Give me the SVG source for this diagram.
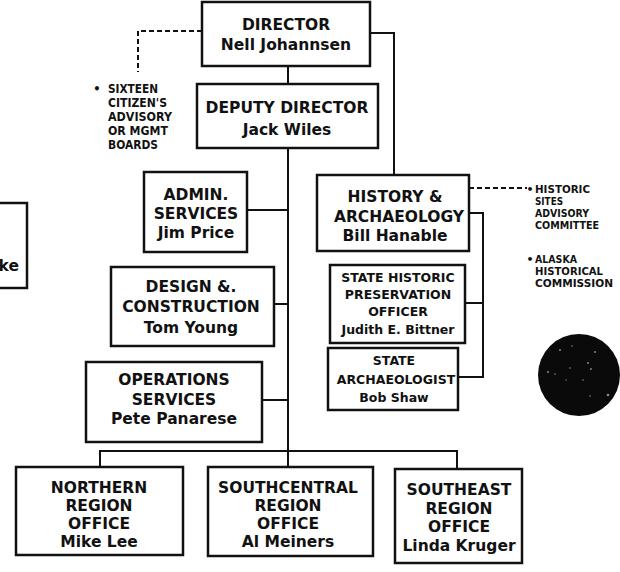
<svg xmlns="http://www.w3.org/2000/svg" width="620" height="572" viewBox="0 0 620 572">
<style>
.box{fill:#fff;stroke:#111;stroke-width:2.5}
.ln{fill:none;stroke:#111;stroke-width:2}
.dash{fill:none;stroke:#111;stroke-width:2;stroke-dasharray:5 3}
text{font-family:"DejaVu Sans",Verdana,sans-serif;font-weight:bold;fill:#111;text-anchor:middle}
.t{font-size:15.5px}
.s{font-size:12.5px}
.n{font-size:11.5px;text-anchor:start}
.r{font-size:11px;text-anchor:start}
</style>
<rect width="620" height="572" fill="#fff"/>
<g id="connectors">
<line class="ln" x1="288" y1="66" x2="288" y2="84"/>
<polyline class="ln" points="370,33 394,33 394,175"/>
<line class="ln" x1="288" y1="148" x2="288" y2="467"/>
<line class="ln" x1="247" y1="210" x2="288" y2="210"/>
<line class="ln" x1="274" y1="304" x2="288" y2="304"/>
<line class="ln" x1="262" y1="400" x2="288" y2="400"/>
<polyline class="ln" points="100,467 100,451 457,451 457,469"/>
<polyline class="ln" points="469,213 483,213 483,377 458,377"/>
<line class="ln" x1="465" y1="303" x2="483" y2="303"/>
<polyline class="dash" points="202,31 138,31 138,72"/>
<line class="dash" x1="469" y1="188" x2="527" y2="188"/>
</g>
<g id="director">
<rect class="box" x="202" y="2" width="168" height="64"/>
<text class="t" x="286" y="30">DIRECTOR</text>
<text class="t" x="286" y="50">Nell Johannsen</text>
</g>
<g id="deputy">
<rect class="box" x="197" y="84" width="181" height="64"/>
<text class="t" x="287" y="113">DEPUTY DIRECTOR</text>
<text class="t" x="287" y="135">Jack Wiles</text>
</g>
<g id="citizens-note">
<text class="n" x="97" y="93" style="text-anchor:middle">•</text>
<text class="n" x="108" y="93" textLength="50" lengthAdjust="spacingAndGlyphs">SIXTEEN</text>
<text class="n" x="108" y="107" textLength="59" lengthAdjust="spacingAndGlyphs">CITIZEN'S</text>
<text class="n" x="108" y="121" textLength="64" lengthAdjust="spacingAndGlyphs">ADVISORY</text>
<text class="n" x="108" y="135" textLength="60" lengthAdjust="spacingAndGlyphs">OR MGMT</text>
<text class="n" x="108" y="149" textLength="50" lengthAdjust="spacingAndGlyphs">BOARDS</text>
</g>
<g id="left-partial">
<rect class="box" x="-10" y="203" width="37" height="85"/>
<text class="t" x="19" y="271" style="text-anchor:end">ke</text>
</g>
<g id="admin">
<rect class="box" x="144" y="172" width="103" height="80"/>
<text class="t" x="196" y="200">ADMIN.</text>
<text class="t" x="196" y="219">SERVICES</text>
<text class="t" x="196" y="238">Jim Price</text>
</g>
<g id="design">
<rect class="box" x="111" y="267" width="163" height="79"/>
<text class="t" x="191" y="292">DESIGN &amp;.</text>
<text class="t" x="191" y="312">CONSTRUCTION</text>
<text class="t" x="191" y="333">Tom Young</text>
</g>
<g id="operations">
<rect class="box" x="86" y="362" width="176" height="80"/>
<text class="t" x="174" y="385">OPERATIONS</text>
<text class="t" x="174" y="405">SERVICES</text>
<text class="t" x="174" y="424">Pete Panarese</text>
</g>
<g id="history">
<rect class="box" x="317" y="175" width="152" height="76"/>
<text class="t" x="395" y="202">HISTORY &amp;</text>
<text class="t" x="399" y="222">ARCHAEOLOGY</text>
<text class="t" x="395" y="241">Bill Hanable</text>
</g>
<g id="history-note">
<text class="r" x="530" y="193" style="text-anchor:middle">•</text>
<text class="r" x="535" y="193" textLength="55" lengthAdjust="spacingAndGlyphs">HISTORIC</text>
<text class="r" x="535" y="205" textLength="28" lengthAdjust="spacingAndGlyphs">SITES</text>
<text class="r" x="535" y="217" textLength="54" lengthAdjust="spacingAndGlyphs">ADVISORY</text>
<text class="r" x="535" y="229" textLength="64" lengthAdjust="spacingAndGlyphs">COMMITTEE</text>
<text class="r" x="530" y="263" style="text-anchor:middle">•</text>
<text class="r" x="535" y="263" textLength="42" lengthAdjust="spacingAndGlyphs">ALASKA</text>
<text class="r" x="535" y="275" textLength="68" lengthAdjust="spacingAndGlyphs">HISTORICAL</text>
<text class="r" x="535" y="287" textLength="78" lengthAdjust="spacingAndGlyphs">COMMISSION</text>
</g>
<g id="shpo">
<rect class="box" x="330" y="265" width="135" height="78"/>
<text class="s" x="398" y="282">STATE HISTORIC</text>
<text class="s" x="398" y="299">PRESERVATION</text>
<text class="s" x="398" y="316">OFFICER</text>
<text class="s" x="398" y="334">Judith E. Bittner</text>
</g>
<g id="archaeologist">
<rect class="box" x="328" y="348" width="130" height="62"/>
<text class="s" x="394" y="365">STATE</text>
<text class="s" x="396" y="384">ARCHAEOLOGIST</text>
<text class="s" x="394" y="402">Bob Shaw</text>
</g>
<g id="northern">
<rect class="box" x="16" y="467" width="167" height="88"/>
<text class="t" x="99" y="493">NORTHERN</text>
<text class="t" x="99" y="511">REGION</text>
<text class="t" x="99" y="529">OFFICE</text>
<text class="t" x="99" y="547">Mike Lee</text>
</g>
<g id="southcentral">
<rect class="box" x="208" y="467" width="165" height="89"/>
<text class="t" x="288" y="493">SOUTHCENTRAL</text>
<text class="t" x="288" y="511">REGION</text>
<text class="t" x="288" y="529">OFFICE</text>
<text class="t" x="288" y="547">Al Meiners</text>
</g>
<g id="southeast">
<rect class="box" x="395" y="469" width="127" height="94"/>
<text class="t" x="459" y="495">SOUTHEAST</text>
<text class="t" x="459" y="514">REGION</text>
<text class="t" x="459" y="532">OFFICE</text>
<text class="t" x="459" y="551">Linda Kruger</text>
</g>
<g id="seal">
<circle cx="579" cy="375" r="41" fill="#0a0a0a"/>
<g fill="#888">
<circle cx="560" cy="350" r="1"/><circle cx="572" cy="346" r="0.8"/><circle cx="595" cy="352" r="1"/>
<circle cx="548" cy="372" r="1"/><circle cx="555" cy="374" r="0.8"/><circle cx="588" cy="363" r="1"/>
<circle cx="591" cy="369" r="0.9"/><circle cx="570" cy="368" r="0.8"/><circle cx="583" cy="380" r="0.8"/>
<circle cx="608" cy="395" r="1.3"/><circle cx="590" cy="396" r="0.8"/><circle cx="566" cy="380" r="0.7"/>
</g>
</g>
</svg>
